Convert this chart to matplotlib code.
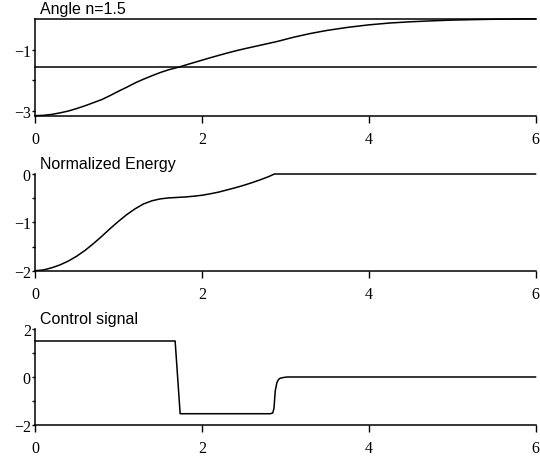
import numpy as np
import matplotlib
matplotlib.use("Agg")
import matplotlib.pyplot as plt

# ---- data ----
t_angle = [0, 0.1, 0.2, 0.3, 0.4, 0.5, 0.6, 0.7, 0.8, 0.9, 1.0, 1.1, 1.2, 1.3, 1.4,
           1.5, 1.6, 1.72, 1.8, 1.9, 2.0, 2.1, 2.2, 2.3, 2.4, 2.5, 2.6, 2.7, 2.8,
           2.9, 3.0, 3.1, 3.2, 3.3, 3.4, 3.5, 3.6, 3.75, 4.0, 4.25, 4.5, 4.75, 5.0,
           5.25, 5.5, 5.75, 6.0]
angle = [-3.14, -3.13, -3.10, -3.05, -2.99, -2.91, -2.82, -2.72, -2.62, -2.49, -2.35,
         -2.22, -2.08, -1.96, -1.85, -1.745, -1.655, -1.571, -1.505, -1.425, -1.345,
         -1.265, -1.19, -1.115, -1.045, -0.98, -0.92, -0.86, -0.80, -0.74, -0.67,
         -0.60, -0.54, -0.48, -0.43, -0.38, -0.34, -0.28, -0.20, -0.14, -0.10, -0.07,
         -0.045, -0.03, -0.018, -0.01, -0.005]
angle_refs = [0.0, -np.pi / 2]

t_energy = [0, 0.1, 0.2, 0.3, 0.4, 0.5, 0.6, 0.7, 0.8, 0.9, 1.0, 1.1, 1.2, 1.3, 1.4,
            1.5, 1.6, 1.7, 1.8, 1.9, 2.0, 2.1, 2.2, 2.3, 2.4, 2.5, 2.6, 2.7, 2.8,
            2.87, 6.0]
energy = [-2.0, -1.985, -1.94, -1.88, -1.80, -1.70, -1.58, -1.44, -1.29, -1.13, -0.98,
          -0.84, -0.72, -0.62, -0.555, -0.515, -0.495, -0.485, -0.475, -0.46, -0.44,
          -0.41, -0.375, -0.33, -0.285, -0.235, -0.18, -0.12, -0.055, 0.0, 0.0]

t_control = [0, 1.68, 1.74, 2.82, 2.85, 2.865, 2.88, 2.90, 2.92, 2.94, 2.98, 3.02, 6.0]
control = [1.5, 1.5, -1.53, -1.53, -1.50, -1.30, -0.58, -0.23, -0.10, -0.05, -0.02,
           0.0, 0.0]

titles = ["Angle n=1.5", "Normalized Energy", "Control signal"]
x_ticks = [0, 2, 4, 6]
ylims = [(-np.pi, 0), (-2, 0), (-2, 2)]
y_major = [[-3, -1], [-2, -1, 0], [-2, 0, 2]]
y_minor = [[-2], [-1.5, -0.5], [-1, 1]]

# ---- figure ----
serif = ["Liberation Serif", "DejaVu Serif"]
sans = ["Liberation Sans", "DejaVu Sans"]

fig = plt.figure(figsize=(5.4, 4.6), dpi=100)
W, H = 540.0, 460.0
left_px, right_px = 35.0, 535.5
panels_px = [(19.7, 116.7), (175.0, 271.7), (330.0, 426.0)]

series = [(t_angle, angle), (t_energy, energy), (t_control, control)]

for i, (top, bot) in enumerate(panels_px):
    ax = fig.add_axes([left_px / W, 1 - bot / H, (right_px - left_px) / W, (bot - top) / H])
    tx, ty = series[i]
    ax.plot(tx, ty, color="black", lw=1.1, solid_joinstyle="round", clip_on=False)
    if i == 0:
        for r in angle_refs:
            ax.plot([0, 6], [r, r], color="black", lw=1.1, clip_on=False)
    ax.set_xlim(0, 6)
    ax.set_ylim(*ylims[i])
    for s in ["top", "right"]:
        ax.spines[s].set_visible(False)
    for s in ["left", "bottom"]:
        ax.spines[s].set_linewidth(1.1)
    ax.set_xticks(x_ticks)
    ax.set_xticklabels([str(v) for v in x_ticks], fontfamily=serif, fontsize=11.5)
    ax.set_yticks(y_major[i])
    ax.set_yticklabels([("\u2212" + str(abs(v))) if v < 0 else str(v) for v in y_major[i]],
                       fontfamily=serif, fontsize=11.5)
    ax.set_yticks(y_minor[i], minor=True)
    ax.tick_params(axis="x", which="major", direction="out", length=5, width=1.0, pad=6)
    ax.tick_params(axis="y", which="both", direction="out", length=2.5, width=1.0, pad=0.5)
    ax.text(0.01, 1.0 + 5.5 / (bot - top), titles[i], transform=ax.transAxes,
            fontfamily=sans, fontsize=11.5, ha="left", va="baseline")
    ax.patch.set_visible(False)

fig.savefig("out.png", dpi=100)
